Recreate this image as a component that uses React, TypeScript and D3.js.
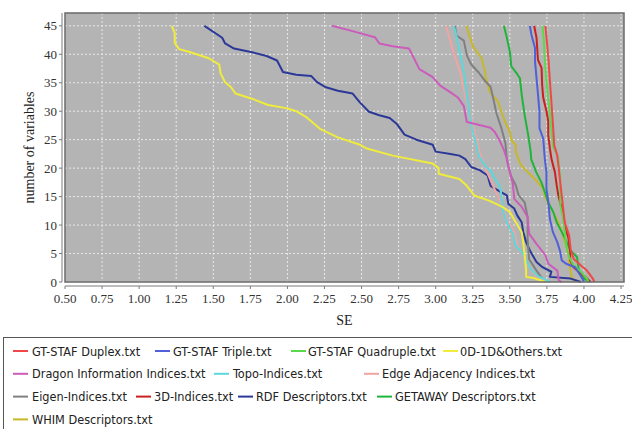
import React from "react";
import * as d3 from "d3";

// [SE, number of variables] pairs
const gtstafDuplex: [number, number][] = [
  [3.74, 45], [3.75, 42.2], [3.76, 39.3], [3.77, 35.4], [3.78, 31.8], [3.79, 27.9], [3.8, 24],
  [3.82, 22.2], [3.83, 19.9], [3.84, 17.5], [3.85, 15.2], [3.86, 12.9], [3.87, 10.5], [3.9, 8.2],
  [3.91, 5.8], [3.93, 4.1], [3.98, 2.9], [4.02, 2.0], [4.06, 0.6], [4.07, 0],
];
const gtstafTriple: [number, number][] = [
  [3.635, 45], [3.646, 43.4], [3.67, 41.1], [3.67, 38.7], [3.68, 35.8], [3.69, 32.9], [3.7, 29.9],
  [3.7, 27], [3.725, 25.2], [3.736, 21.6], [3.747, 19.3], [3.747, 16.4], [3.76, 14], [3.77, 11.1],
  [3.79, 8.8], [3.82, 7], [3.84, 5.3], [3.85, 3.8], [3.88, 3.2], [3.94, 2.6], [3.96, 1.8],
  [3.99, 0.6], [4.0, 0],
];
const gtstafQuadruple: [number, number][] = [
  [3.72, 45], [3.73, 42.2], [3.736, 38.9], [3.747, 35.4], [3.758, 32.4], [3.77, 29.6], [3.78, 26.7],
  [3.793, 23.7], [3.816, 22.5], [3.827, 21.6], [3.84, 18.1], [3.84, 13.5], [3.86, 11.1], [3.87, 8.8],
  [3.88, 6.4], [3.9, 4.4], [3.93, 2.9], [3.98, 1.8], [4.02, 0.6], [4.03, 0],
];
const odOthers: [number, number][] = [
  [1.22, 45], [1.24, 43.7], [1.24, 42], [1.27, 40.9], [1.34, 40.4], [1.47, 39.3], [1.54, 38.2],
  [1.55, 36.6], [1.58, 35.1], [1.62, 34.2], [1.65, 33.1], [1.76, 32.2], [1.87, 31.1], [2.0, 30.5],
  [2.06, 30.0], [2.13, 28.9], [2.22, 26.9], [2.34, 25.4], [2.49, 24.1], [2.53, 23.5], [2.71, 22.2],
  [2.98, 20.8], [3.02, 20.0], [3.02, 19.0], [3.16, 18.1], [3.21, 16.9], [3.26, 15.2], [3.36, 14.3],
  [3.45, 13.2], [3.5, 12.3], [3.54, 10.5], [3.58, 8.8], [3.59, 7.0], [3.6, 4.7], [3.61, 2.0],
  [3.61, 0.9], [3.66, 0.7], [3.74, 0],
];
const dragonInfo: [number, number][] = [
  [2.3, 45], [2.42, 44.2], [2.59, 43.0], [2.62, 41.9], [2.71, 41.4], [2.82, 41.0], [2.85, 39.5],
  [2.89, 37.4], [2.98, 36.0], [3.03, 34.5], [3.1, 33.3], [3.15, 32.4], [3.19, 30.9], [3.21, 28.1],
  [3.26, 27.8], [3.37, 27.1], [3.4, 26.3], [3.43, 24.9], [3.46, 23.2], [3.48, 21.6], [3.5, 19.3],
  [3.52, 17.3], [3.53, 14.6], [3.58, 13.2], [3.62, 11.4], [3.63, 8.5], [3.68, 6.7], [3.74, 4.7],
  [3.76, 3.2], [3.82, 2.0], [3.83, 0.3], [3.85, 0],
];
const topoIndices: [number, number][] = [
  [3.12, 45], [3.13, 44.3], [3.16, 40.8], [3.19, 36.8], [3.21, 32.7], [3.23, 29.5], [3.25, 26.5],
  [3.28, 23.5], [3.29, 22.2], [3.34, 20.2], [3.37, 19.6], [3.4, 18.1], [3.43, 17.0], [3.44, 15.8],
  [3.45, 12.9], [3.48, 10.5], [3.52, 8.5], [3.54, 6.4], [3.58, 5.3], [3.61, 3.8], [3.64, 2.3],
  [3.68, 1.2], [3.7, 0.9], [3.77, 0],
];
const edgeAdjacency: [number, number][] = [
  [3.07, 45], [3.1, 42.2], [3.13, 39.5], [3.17, 36.5], [3.2, 32.5], [3.24, 29.2], [3.27, 25.5],
  [3.3, 22.6], [3.34, 19.7], [3.39, 16.7], [3.43, 14.5], [3.46, 12.5], [3.49, 10.5], [3.53, 8.8],
  [3.55, 6.4], [3.59, 4.7], [3.62, 2.9], [3.67, 1.2], [3.75, 0],
];
const eigenIndices: [number, number][] = [
  [3.13, 45], [3.14, 43.3], [3.19, 42.4], [3.21, 39.8], [3.24, 38.2], [3.29, 36.8], [3.33, 35.4],
  [3.37, 34.3], [3.39, 32.0], [3.41, 29.6], [3.44, 27.3], [3.47, 24.4], [3.48, 21.6], [3.49, 20.3],
  [3.51, 18.5], [3.54, 17.0], [3.56, 15.2], [3.6, 14.0], [3.62, 11.4], [3.62, 7.5], [3.63, 4.0],
  [3.68, 2.0], [3.71, 0.9], [3.74, 0],
];
const indices3D: [number, number][] = [
  [3.664, 45], [3.68, 42.9], [3.69, 39.0], [3.714, 37.6], [3.718, 34.6], [3.725, 32.4], [3.748, 29.9],
  [3.759, 28.2], [3.759, 25.8], [3.77, 23.5], [3.781, 21.6], [3.804, 19.3], [3.816, 17.0],
  [3.827, 15.2], [3.85, 12.9], [3.873, 9.9], [3.896, 7.6], [3.907, 5.3], [3.907, 3.8], [3.93, 2.6],
  [3.964, 1.8], [4.01, 0.9], [4.044, 0],
];
const rdfDescriptors: [number, number][] = [
  [1.44, 45], [1.56, 42.9], [1.58, 41.9], [1.64, 41.0], [1.77, 40.3], [1.86, 39.7], [1.93, 38.9],
  [1.97, 36.9], [2.06, 36.4], [2.16, 36.2], [2.2, 35.1], [2.26, 34.2], [2.34, 33.6], [2.44, 33.1],
  [2.49, 31.5], [2.55, 29.9], [2.62, 29.3], [2.69, 28.8], [2.74, 27.7], [2.79, 25.9], [2.87, 25.0],
  [2.98, 24.1], [3.0, 22.9], [3.1, 22.5], [3.16, 22.2], [3.2, 21.6], [3.24, 20.2], [3.3, 19.6],
  [3.35, 18.7], [3.37, 16.9], [3.4, 16.4], [3.44, 15.8], [3.48, 15.2], [3.49, 13.7], [3.53, 12.9],
  [3.55, 11.7], [3.58, 10.5], [3.59, 8.8], [3.61, 7.0], [3.64, 5.3], [3.68, 3.5], [3.72, 2.6],
  [3.78, 1.8], [3.77, 0.9], [3.91, 0.6], [3.98, 0],
];
const getawayDescriptors: [number, number][] = [
  [3.46, 45], [3.48, 42.9], [3.5, 40.5], [3.51, 37.9], [3.545, 36.7], [3.568, 35.8], [3.58, 32.9],
  [3.6, 29.3], [3.624, 25.8], [3.64, 23], [3.644, 21.6], [3.678, 19.3], [3.713, 17.5], [3.736, 15.8],
  [3.758, 14.0], [3.793, 12.3], [3.816, 10.5], [3.85, 8.8], [3.884, 7.0], [3.907, 5.6], [3.953, 4.4],
  [3.964, 2.3], [3.987, 0.9], [4.033, 0],
];
const whimDescriptors: [number, number][] = [
  [3.207, 45], [3.23, 43.1], [3.252, 41.4], [3.309, 39.3], [3.33, 37.3], [3.342, 35.5], [3.365, 33.4],
  [3.42, 31.7], [3.444, 29.9], [3.466, 28.2], [3.5, 26.4], [3.512, 24.9], [3.541, 24.0], [3.541, 22.8],
  [3.575, 20.5], [3.621, 19.3], [3.656, 18.4], [3.69, 17.5], [3.724, 16.4], [3.736, 15.2],
  [3.758, 13.7], [3.793, 12.3], [3.827, 10.5], [3.85, 8.8], [3.873, 7.0], [3.896, 4.7], [3.907, 2.3],
  [3.918, 0.9], [3.94, 0],
];

const seriesNames = [
  "GT-STAF Duplex.txt", "GT-STAF Triple.txt", "GT-STAF Quadruple.txt", "0D-1D&Others.txt",
  "Dragon Information Indices.txt", "Topo-Indices.txt", "Edge Adjacency Indices.txt",
  "Eigen-Indices.txt", "3D-Indices.txt", "RDF Descriptors.txt", "GETAWAY Descriptors.txt",
  "WHIM Descriptors.txt",
];
const seriesData = [
  gtstafDuplex, gtstafTriple, gtstafQuadruple, odOthers, dragonInfo, topoIndices, edgeAdjacency,
  eigenIndices, indices3D, rdfDescriptors, getawayDescriptors, whimDescriptors,
];
const seriesColors = [
  "#f04848", "#5060d8", "#5cd84c", "#f0ec3c", "#cc5cbc", "#5cd8dc", "#f0a4a4",
  "#808080", "#cc2020", "#2c3898", "#20b43c", "#c8b828",
];

const xTicks = [0.5, 0.75, 1.0, 1.25, 1.5, 1.75, 2.0, 2.25, 2.5, 2.75, 3.0, 3.25, 3.5, 3.75, 4.0, 4.25];
const yTicks = [0, 5, 10, 15, 20, 25, 30, 35, 40, 45];

export default function App() {
  const width = 632;
  const height = 429;
  const plot = { left: 65, right: 624, top: 13, bottom: 282 };

  const x = d3.scaleLinear().domain([0.5, 4.27]).range([plot.left, plot.right]);
  const y = d3.scaleLinear().domain([0, 47.25]).range([plot.bottom, plot.top]);

  const line = d3
    .line<[number, number]>()
    .x((d) => x(d[0]))
    .y((d) => y(d[1]));

  // legend flow: [row, line start x, text start x]
  const legendSlots: [number, number, number][] = [
    [0, 13, 32], [0, 155, 173], [0, 291, 308], [0, 443, 460],
    [1, 13, 32], [1, 214, 233], [1, 364, 382],
    [2, 13, 32], [2, 136, 154], [2, 238, 256], [2, 377, 395],
    [3, 13, 32],
  ];
  const legendTop = 337;
  const rowH = 22.8;

  const serif = "'Liberation Serif', 'DejaVu Serif', serif";
  const sans = "'DejaVu Sans Condensed', 'Liberation Sans', sans-serif";

  return (
    <svg
      width={width}
      height={height}
      style={{ position: "absolute", left: 0, top: 0, background: "#fff" }}
    >
      <rect x={plot.left} y={plot.top} width={plot.right - plot.left} height={plot.bottom - plot.top} fill="#b4b4b4" />

      <g stroke="#f4f4f4" strokeDasharray="2,2" strokeWidth={1} opacity={0.85}>
        {xTicks.map((t) => (
          <line key={"gx" + t} x1={x(t)} x2={x(t)} y1={plot.top} y2={plot.bottom} />
        ))}
        {yTicks.map((t) => (
          <line key={"gy" + t} x1={plot.left} x2={plot.right} y1={y(t)} y2={y(t)} />
        ))}
      </g>

      <g fill="none" strokeWidth={2} strokeLinejoin="round">
        {seriesData
          .map((d, i) => ({ d, i }))
          .reverse()
          .map(({ d, i }) => (
            <path key={seriesNames[i]} d={line(d) ?? ""} stroke={seriesColors[i]} />
          ))}
      </g>

      <rect
        x={plot.left}
        y={plot.top}
        width={plot.right - plot.left}
        height={plot.bottom - plot.top}
        fill="none"
        stroke="#6a6a6a"
        strokeWidth={1.5}
      />

      {/* y axis */}
      <line x1={62} x2={62} y1={plot.top} y2={plot.bottom} stroke="#7a7a7a" />
      {yTicks.map((t) => (
        <g key={"ty" + t}>
          <line x1={59} x2={62} y1={y(t)} y2={y(t)} stroke="#7a7a7a" />
          <text x={57} y={y(t) + 4.5} textAnchor="end" fontFamily={serif} fontSize={13} fill="#333">
            {t}
          </text>
        </g>
      ))}
      <text
        transform={`translate(31,${(plot.top + plot.bottom) / 2}) rotate(-90)`}
        textAnchor="middle"
        dominantBaseline="middle"
        fontFamily={serif}
        fontSize={14}
        fill="#222"
      >
        number of variables
      </text>

      {/* x axis */}
      <line x1={plot.left} x2={plot.right} y1={286} y2={286} stroke="#7a7a7a" />
      {xTicks.map((t) => (
        <g key={"tx" + t}>
          <line x1={x(t)} x2={x(t)} y1={286} y2={289} stroke="#7a7a7a" />
          <text x={x(t)} y={303} textAnchor="middle" fontFamily={serif} fontSize={13} fill="#333">
            {d3.format(".2f")(t)}
          </text>
        </g>
      ))}
      <text x={(plot.left + plot.right) / 2} y={325} textAnchor="middle" fontFamily={serif} fontSize={14} fill="#222">
        SE
      </text>

      {/* legend */}
      <rect x={3.5} y={legendTop + 0.5} width={640} height={120} fill="#fff" stroke="#555" strokeWidth={1} />
      {legendSlots.map(([row, lx, tx], i) => {
        const cy = legendTop + 14 + row * rowH;
        return (
          <g key={"lg" + i}>
            <line x1={lx} x2={lx + 15} y1={cy} y2={cy} stroke={seriesColors[i]} strokeWidth={2} />
            <text x={tx} y={cy + 4.5} fontFamily={sans} fontSize={12.6} fill="#222">
              {seriesNames[i]}
            </text>
          </g>
        );
      })}
    </svg>
  );
}
